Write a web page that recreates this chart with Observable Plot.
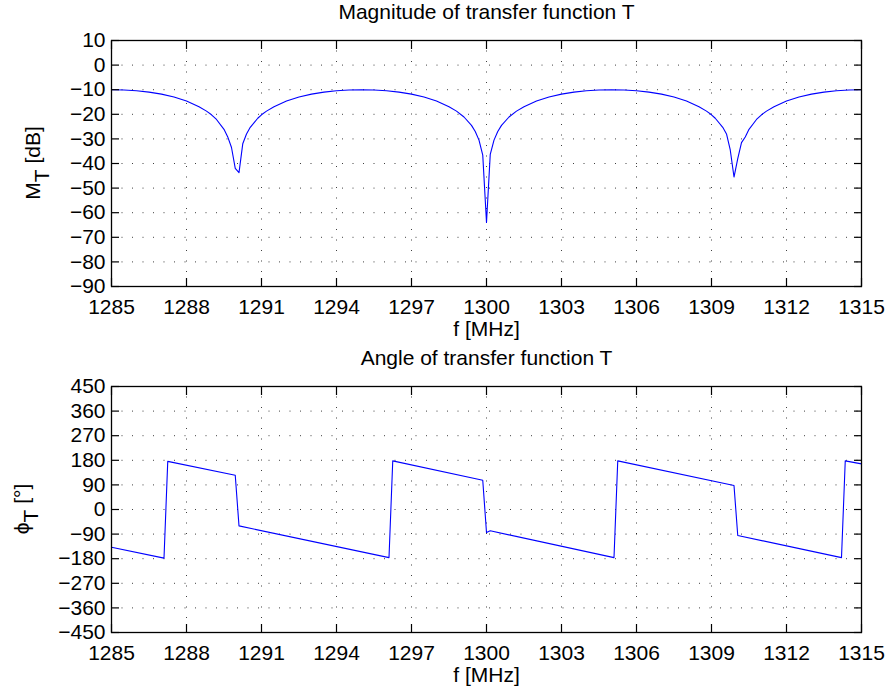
<!DOCTYPE html>
<html><head><meta charset="utf-8">
<script src="https://cdn.jsdelivr.net/npm/d3@7"></script>
<script src="https://cdn.jsdelivr.net/npm/@observablehq/plot@0.6"></script>
<style>
body{margin:0;background:#fff;}
#chart{position:relative;width:890px;height:697px;background:#fff;}
#chart svg{position:absolute;left:0;max-width:none;}
</style></head><body><div id="chart"></div>
<script>
// ---- data ----
const freqMag = [1285,1285.5,1286,1286.5,1287,1287.5,1288,1288.5,1288.8,1289,1289.2,1289.5,1289.65,1289.8,1289.95,1290.1,1290.25,1290.4,1290.55,1290.85,1291,1291.2,1291.5,1292,1292.5,1293,1293.5,1294,1294.5,1295,1295.5,1296,1296.5,1297,1297.5,1298,1298.5,1298.8,1299.1,1299.4,1299.55,1299.7,1299.85,1300,1300.15,1300.3,1300.45,1300.6,1300.9,1301.2,1301.5,1302,1302.5,1303,1303.5,1304,1304.5,1305,1305.5,1306,1306.5,1307,1307.5,1308,1308.5,1308.8,1309,1309.15,1309.45,1309.6,1309.75,1309.9,1310.05,1310.2,1310.35,1310.5,1310.8,1311,1311.2,1311.5,1312,1312.5,1313,1313.5,1314,1314.5,1315];
const magDb = [-10.0,-10.1,-10.4,-11.0,-11.8,-13.0,-14.6,-16.9,-18.7,-20.2,-22.1,-26.1,-29.2,-33.5,-42.0,-43.7,-32.0,-28.0,-25.3,-21.6,-20.2,-18.7,-16.9,-14.6,-13.0,-11.8,-11.0,-10.4,-10.1,-10.0,-10.1,-10.4,-11.0,-11.8,-13.0,-14.6,-16.9,-18.7,-21.1,-24.5,-27.0,-30.5,-36.6,-64.0,-36.3,-30.5,-27.0,-24.5,-21.1,-18.7,-16.9,-14.6,-13.0,-11.8,-11.0,-10.4,-10.1,-10.0,-10.1,-10.4,-11.0,-11.8,-13.0,-14.6,-16.9,-18.7,-20.2,-21.6,-25.3,-28.0,-34.5,-45.5,-38.0,-31.5,-29.2,-26.1,-22.1,-20.2,-18.7,-16.9,-14.6,-13.0,-11.8,-11.0,-10.4,-10.1,-10.0];
const freqPhase = [1285,1287.1,1287.25,1289.95,1290.1,1296.1,1296.25,1299.85,1300,1300.15,1305.1,1305.25,1309.9,1310.05,1314.2,1314.35,1315];
const phaseDeg = [-138,-178,176,125,-60,-176,178,107,-84,-78,-176,178,88,-95,-176,178,167];
const xTicks = [1285,1288,1291,1294,1297,1300,1303,1306,1309,1312,1315];
const magTicks = [10,0,-10,-20,-30,-40,-50,-60,-70,-80,-90];
const phaseTicks = [450,360,270,180,90,0,-90,-180,-270,-360,-450];
const titles = ["Magnitude of transfer function T", "Angle of transfer function T"];
const xLabel = "f [MHz]";

const magRows = freqMag.map((f, i) => ({f, v: magDb[i]}));
const phaseRows = freqPhase.map((f, i) => ({f, v: phaseDeg[i]}));

const FS = 21;
const FONT = '"Liberation Sans", Arial, Helvetica, sans-serif';

function panel({rows, yDomain, yTicks, title, height, mt, mb}) {
  const grid = {stroke: "#000", strokeOpacity: 0.75, strokeWidth: 1, strokeDasharray: "1,9.5"};
  return Plot.plot({
    width: 890, height, marginLeft: 111, marginRight: 29, marginTop: mt, marginBottom: mb,
    style: {fontFamily: FONT, fontSize: FS + "px", color: "#000", background: "#fff", overflow: "visible"},
    x: {domain: [1285, 1315]},
    y: {domain: yDomain},
    marks: [
      Plot.gridX(xTicks, grid),
      Plot.gridY(yTicks, grid),
      Plot.line(rows, {x: "f", y: "v", stroke: "#0000ff", strokeWidth: 1.1}),
      Plot.axisX(xTicks, {anchor: "bottom", tickSize: 0, tickPadding: 13, tickFormat: "d", label: null, fontSize: FS}),
      Plot.axisX(xTicks, {anchor: "bottom", tickSize: 8, dy: -8, tickFormat: () => "", label: null, strokeWidth: 1.2}),
      Plot.axisX(xTicks, {anchor: "top", tickSize: 8, dy: 8, tickFormat: () => "", label: null, strokeWidth: 1.2}),
      Plot.axisY(yTicks, {anchor: "left", tickSize: 0, tickPadding: 6, tickFormat: "d", label: null, fontSize: FS}),
      Plot.axisY(yTicks, {anchor: "left", tickSize: 8, dx: 8, tickFormat: () => "", label: null, strokeWidth: 1.2}),
      Plot.axisY(yTicks, {anchor: "right", tickSize: 8, dx: -8, tickFormat: () => "", label: null, strokeWidth: 1.2}),
      Plot.frame({stroke: "#000", strokeWidth: 1.3}),
      Plot.text([title], {frameAnchor: "top", lineAnchor: "middle", dy: -28, fontSize: FS, fill: "#000"}),
      Plot.text([xLabel], {frameAnchor: "bottom", lineAnchor: "middle", dy: 43, fontSize: FS, fill: "#000"})
    ]
  });
}

function yLabel(svgEl, x, y, main, sub, rest) {
  const t = d3.select(svgEl).append("text")
    .attr("transform", `translate(${x},${y}) rotate(-90)`)
    .attr("text-anchor", "middle")
    .attr("font-family", FONT)
    .attr("font-size", FS)
    .attr("fill", "#000");
  t.append("tspan").text(main);
  t.append("tspan").attr("dy", 9).text(sub);
  t.append("tspan").attr("dy", -9).text(rest);
}

const chart = document.getElementById("chart");

const top1 = panel({rows: magRows, yDomain: [-90, 10], yTicks: magTicks, title: titles[0], height: 348, mt: 40, mb: 62});
top1.style.top = "0px";
yLabel(top1, 40, 163, "M", "T", "\u00a0[dB]");
chart.appendChild(top1);

const bot = panel({rows: phaseRows, yDomain: [-450, 450], yTicks: phaseTicks, title: titles[1], height: 349, mt: 38, mb: 65});
bot.style.top = "348px";
yLabel(bot, 29, 161, "\u03d5", "T", "\u00a0[\u00b0]");
chart.appendChild(bot);
</script>
</body></html>
